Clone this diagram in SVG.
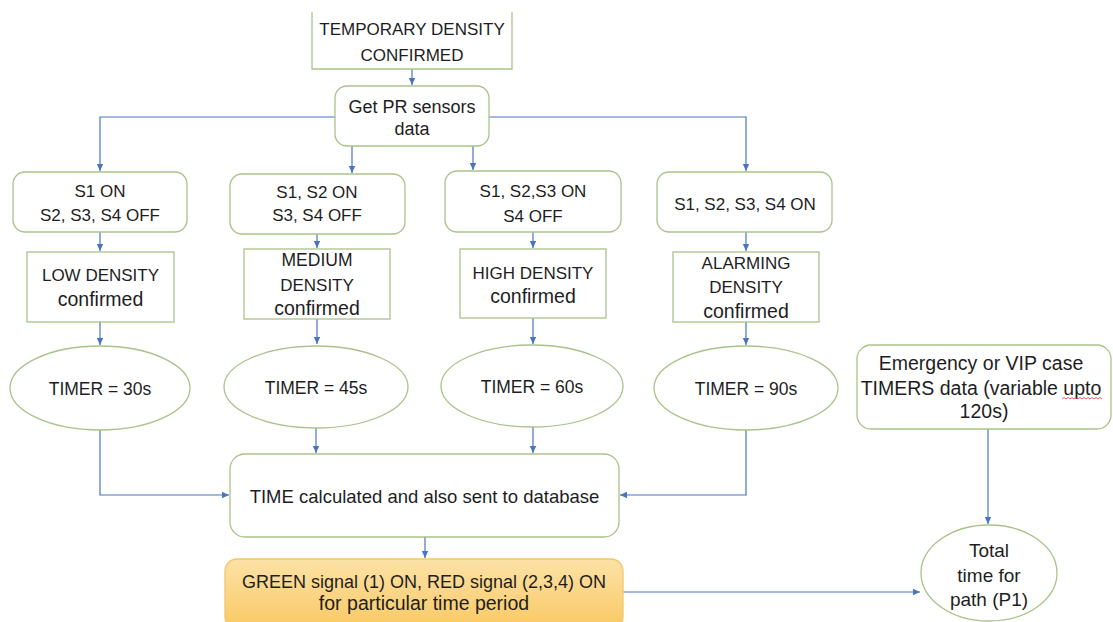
<svg xmlns="http://www.w3.org/2000/svg" width="1113" height="622" viewBox="0 0 1113 622">
<defs>
<style>
.box{fill:#ffffff;stroke:#a9c28a;stroke-width:1.3}
.t{font-family:"Liberation Sans",Arial,sans-serif;fill:#1e1e1e;text-anchor:middle}
.c{fill:none;stroke:#4a74bf;stroke-width:1.2}
</style>
<marker id="ah" markerWidth="8" markerHeight="8" refX="7" refY="4" orient="auto" markerUnits="userSpaceOnUse">
<path d="M0,0.8 L7,4 L0,7.2 Z" fill="#4a74bf"/>
</marker>
<linearGradient id="og" x1="0" y1="0" x2="0" y2="1">
<stop offset="0" stop-color="#fde2a6"/>
<stop offset="1" stop-color="#f9c863"/>
</linearGradient>
</defs>
<rect width="1113" height="622" fill="#ffffff"/>

<g id="connectors">
<path class="c" d="M412,69 V85" marker-end="url(#ah)"/>
<path class="c" d="M335,117 H100 V171" marker-end="url(#ah)"/>
<path class="c" d="M352,146 V173" marker-end="url(#ah)"/>
<path class="c" d="M473,146 V170" marker-end="url(#ah)"/>
<path class="c" d="M489,117 H746 V171" marker-end="url(#ah)"/>
<path class="c" d="M100,232 V251" marker-end="url(#ah)"/>
<path class="c" d="M317,234 V248" marker-end="url(#ah)"/>
<path class="c" d="M533,232 V248" marker-end="url(#ah)"/>
<path class="c" d="M746,232 V251" marker-end="url(#ah)"/>
<path class="c" d="M100,322 V345" marker-end="url(#ah)"/>
<path class="c" d="M317,319 V344" marker-end="url(#ah)"/>
<path class="c" d="M533,318 V344" marker-end="url(#ah)"/>
<path class="c" d="M746,322 V345" marker-end="url(#ah)"/>
<path class="c" d="M100,430 V495 H229" marker-end="url(#ah)"/>
<path class="c" d="M316,428 V453" marker-end="url(#ah)"/>
<path class="c" d="M533,427 V453" marker-end="url(#ah)"/>
<path class="c" d="M746,430 V495 H620" marker-end="url(#ah)"/>
<path class="c" d="M425,537 V558" marker-end="url(#ah)"/>
<path class="c" d="M623,592 H920" marker-end="url(#ah)"/>
<path class="c" d="M988,429 V524" marker-end="url(#ah)"/>
</g>

<g id="n-temporary">
<path d="M312,12 V69 H512 V12" fill="#ffffff" stroke="#a9c28a" stroke-width="1.3"/>
<text class="t" x="412" y="35" font-size="17">TEMPORARY DENSITY</text>
<text class="t" x="412" y="61" font-size="17">CONFIRMED</text>
</g>

<g id="n-getpr">
<rect class="box" x="335" y="86" width="154" height="60" rx="12"/>
<text class="t" x="412" y="113" font-size="18">Get PR sensors</text>
<text class="t" x="412" y="135" font-size="18">data</text>
</g>

<g id="n-s1">
<rect class="box" x="13" y="172" width="174" height="60" rx="12"/>
<text class="t" x="100" y="197" font-size="17">S1 ON</text>
<text class="t" x="100" y="221" font-size="17">S2, S3, S4 OFF</text>
</g>
<g id="n-s2">
<rect class="box" x="230" y="174" width="175" height="60" rx="12"/>
<text class="t" x="317" y="198" font-size="17">S1, S2 ON</text>
<text class="t" x="317" y="221" font-size="17">S3, S4 OFF</text>
</g>
<g id="n-s3">
<rect class="box" x="445" y="171" width="176" height="61" rx="12"/>
<text class="t" x="533" y="197" font-size="17">S1, S2,S3 ON</text>
<text class="t" x="533" y="222" font-size="17">S4 OFF</text>
</g>
<g id="n-s4">
<rect class="box" x="657" y="172" width="175" height="60" rx="12"/>
<text class="t" x="745" y="210" font-size="17">S1, S2, S3, S4 ON</text>
</g>

<g id="n-low">
<rect class="box" x="27" y="252" width="147" height="70"/>
<text class="t" x="100.5" y="281" font-size="17">LOW DENSITY</text>
<text class="t" x="100.5" y="306" font-size="19.5">confirmed</text>
</g>
<g id="n-medium">
<rect class="box" x="244" y="249" width="146" height="70"/>
<text class="t" x="317" y="266" font-size="17.5">MEDIUM</text>
<text class="t" x="317" y="291" font-size="17">DENSITY</text>
<text class="t" x="317" y="315" font-size="19.5">confirmed</text>
</g>
<g id="n-high">
<rect class="box" x="460" y="249" width="146" height="69"/>
<text class="t" x="533" y="279" font-size="17">HIGH DENSITY</text>
<text class="t" x="533" y="303" font-size="19.5">confirmed</text>
</g>
<g id="n-alarming">
<rect class="box" x="673" y="252" width="146" height="70"/>
<text class="t" x="746" y="269" font-size="17">ALARMING</text>
<text class="t" x="746" y="293" font-size="17">DENSITY</text>
<text class="t" x="746" y="318" font-size="19.5">confirmed</text>
</g>

<g id="n-t30">
<ellipse class="box" cx="100" cy="388" rx="90" ry="42"/>
<text class="t" x="100" y="395" font-size="17.5">TIMER = 30s</text>
</g>
<g id="n-t45">
<ellipse class="box" cx="316" cy="387" rx="92" ry="41"/>
<text class="t" x="316" y="394" font-size="17.5">TIMER = 45s</text>
</g>
<g id="n-t60">
<ellipse class="box" cx="532" cy="386" rx="91" ry="41"/>
<text class="t" x="532" y="393" font-size="17.5">TIMER = 60s</text>
</g>
<g id="n-t90">
<ellipse class="box" cx="746" cy="388" rx="92" ry="42"/>
<text class="t" x="746" y="395" font-size="17.5">TIMER = 90s</text>
</g>

<g id="n-time">
<rect class="box" x="230" y="454" width="389" height="83" rx="15"/>
<text class="t" x="424.5" y="503" font-size="18.5">TIME calculated and also sent to database</text>
</g>

<g id="n-green">
<rect x="225" y="559" width="398" height="70" rx="12" fill="url(#og)" stroke="#f2c66e" stroke-width="1.3"/>
<text class="t" x="424" y="588" font-size="18">GREEN signal (1) ON, RED signal (2,3,4) ON</text>
<text class="t" x="424" y="610" font-size="19.5">for particular time period</text>
</g>

<g id="n-emergency">
<rect class="box" x="857" y="345" width="254" height="84" rx="14"/>
<text class="t" x="981" y="370" font-size="19.5">Emergency or VIP case</text>
<text class="t" x="981" y="395" font-size="19.5">TIMERS data (variable upto</text>
<text class="t" x="984" y="418" font-size="19.5">120s)</text>
<path d="M1062,399 l2,-1.5 l2,1.5 l2,-1.5 l2,1.5 l2,-1.5 l2,1.5 l2,-1.5 l2,1.5 l2,-1.5 l2,1.5 l2,-1.5 l2,1.5 l2,-1.5 l2,1.5 l2,-1.5 l2,1.5 l2,-1.5 l2,1.5 l2,-1.5 l2,1.5" fill="none" stroke="#d43b3b" stroke-width="0.8"/>
</g>

<g id="n-total">
<ellipse class="box" cx="989" cy="573" rx="68" ry="48"/>
<text class="t" x="989" y="557" font-size="19">Total</text>
<text class="t" x="989" y="582" font-size="19">time for</text>
<text class="t" x="989" y="606" font-size="19">path (P1)</text>
</g>
</svg>
